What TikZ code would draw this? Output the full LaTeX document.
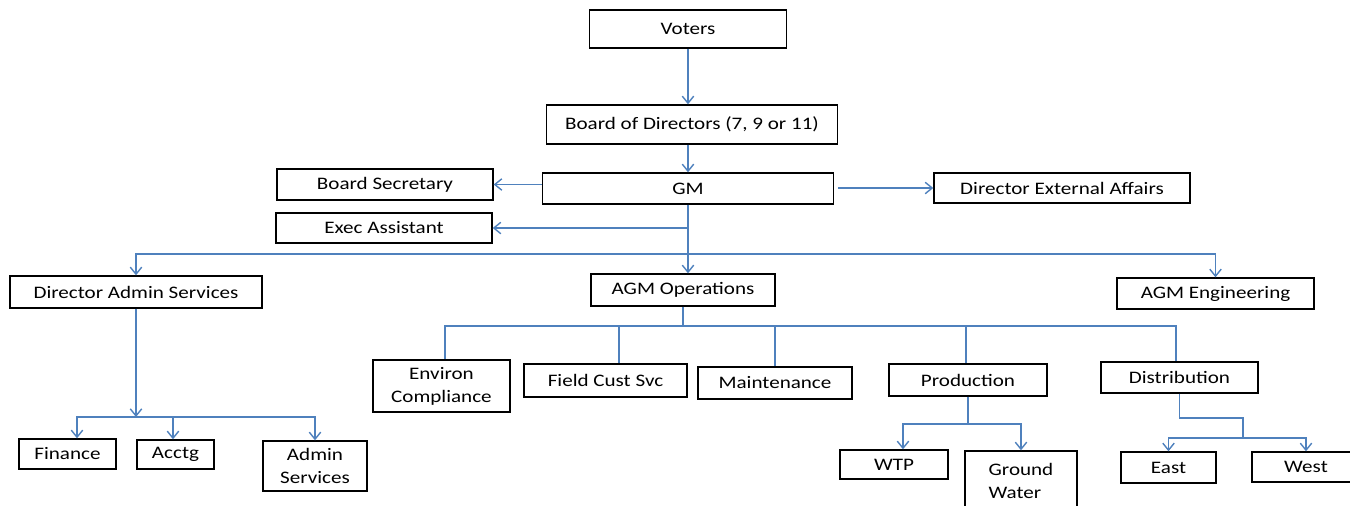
\documentclass[tikz,border=0pt]{standalone}
\usepackage{fontspec}
\setmainfont{Carlito}[FakeStretch=1.2]
\usetikzlibrary{arrows.meta}
\definecolor{linkblue}{HTML}{4F81BD}
\tikzset{
    box/.style={draw=black, line width=0.8pt, inner sep=0pt, align=center, font=\fontsize{10}{13}\selectfont},
    link/.style={draw=linkblue, line width=0.8pt},
    arr/.style={link, -{Straight Barb[length=4pt,width=6.5pt]}},
}
\begin{document}
\begin{tikzpicture}[x=0.02cm, y=-0.02cm]
    \useasboundingbox (0,0) rectangle (1350,505);

    \node[box, minimum width=3.94cm, minimum height=0.76cm] (voters) at (688,29) {Voters};
    \node[box, minimum width=5.82cm, minimum height=0.78cm] (board) at (692,124.5) {Board of Directors (7, 9 or 11)};
    \node[box, minimum width=5.82cm, minimum height=0.62cm] (gm) at (688,188.5) {GM};
    \node[box, minimum width=4.32cm, minimum height=0.62cm] (bsec) at (385,184.5) {Board Secretary};
    \node[box, minimum width=5.12cm, minimum height=0.60cm] (dirext) at (1062,188) {Director External Affairs};
    \node[box, minimum width=4.32cm, minimum height=0.60cm] (exec) at (384,228) {Exec Assistant};

    \node[box, minimum width=5.04cm, minimum height=0.64cm] (diradmin) at (136,292) {Director Admin Services};
    \node[box, minimum width=3.68cm, minimum height=0.64cm] (agmops) at (683,290) {AGM Operations};
    \node[box, minimum width=3.94cm, minimum height=0.62cm] (agmeng) at (1215.5,293.5) {AGM Engineering};

    \node[box, minimum width=2.74cm, minimum height=1.04cm] (env) at (441.5,386) {Environ\\Compliance};
    \node[box, minimum width=3.26cm, minimum height=0.66cm] (field) at (605.5,380.5) {Field Cust Svc};
    \node[box, minimum width=3.08cm, minimum height=0.64cm] (maint) at (775,383) {Maintenance};
    \node[box, minimum width=3.16cm, minimum height=0.64cm] (prod) at (968,380) {Production};
    \node[box, minimum width=3.14cm, minimum height=0.62cm] (dist) at (1179.5,377.5) {Distribution};

    \node[box, minimum width=1.94cm, minimum height=0.60cm] (finance) at (67.5,454) {Finance};
    \node[box, minimum width=1.54cm, minimum height=0.58cm] (acctg) at (175.5,454.5) {Acctg};
    \node[box, minimum width=2.08cm, minimum height=1.00cm] (adminsvc) at (315,466) {Admin\\Services};

    \node[box, minimum width=2.16cm, minimum height=0.58cm] (wtp) at (894,464.5) {WTP};
    \node[box, minimum width=2.24cm, minimum height=1.20cm, align=left] (ground) at (1021,481) {Ground\\Water};
    \node[box, minimum width=1.90cm, minimum height=0.62cm] (east) at (1168.5,467.5) {East};
    \node[box, minimum width=2.16cm, minimum height=0.60cm] (west) at (1306,467) {West};

    \coordinate (hub) at (688,254);
    \coordinate (opsbus) at (686,326);
    \coordinate (adminbus) at (137,417);
    \coordinate (prodbus) at (966,424);
    \coordinate (distbend) at (1243,418);
    \coordinate (distbus) at (1243,438);

    \draw[arr] (voters.south) -- (voters.south |- board.north);
    \draw[arr] (gm.north |- board.south) -- (gm.north);
    \draw[arr] (gm.west |- bsec.east) -- (bsec.east);
    \draw[arr] ([xshift=0.08cm]gm.east |- dirext.west) -- (dirext.west);
    \draw[arr] (gm.south) -- (gm.south |- agmops.north);
    \draw[arr] (gm.south |- exec.east) -- (exec.east);

    \draw[arr] (hub) -| (diradmin.north);
    \draw[arr] (hub) -| (agmeng.north);

    \draw[link] (agmops.south) -- (agmops.south |- opsbus);
    \foreach \n/\dx in {env/0.07, field/0.27, maint/0, prod/-0.04, dist/-0.07}
        \draw[link] (agmops.south |- opsbus) -| ([xshift=\dx cm]\n.north);

    \draw[arr] (diradmin.south) -- (diradmin.south |- adminbus);
    \foreach \n/\dx in {finance/0.19, acctg/-0.05, adminsvc/0}
        \draw[arr] (diradmin.south |- adminbus) -| ([xshift=\dx cm]\n.north);

    \draw[link] (prod.south) -- (prod.south |- prodbus);
    \draw[arr] (prod.south |- prodbus) -| ([xshift=0.18cm]wtp.north);
    \draw[arr] (prod.south |- prodbus) -| (ground.north);

    \draw[link] (dist.south) |- (distbend) -- (distbus);
    \draw[arr] (distbus) -| (east.north);
    \draw[arr] (distbus) -| (west.north);

\end{tikzpicture}
\end{document}
